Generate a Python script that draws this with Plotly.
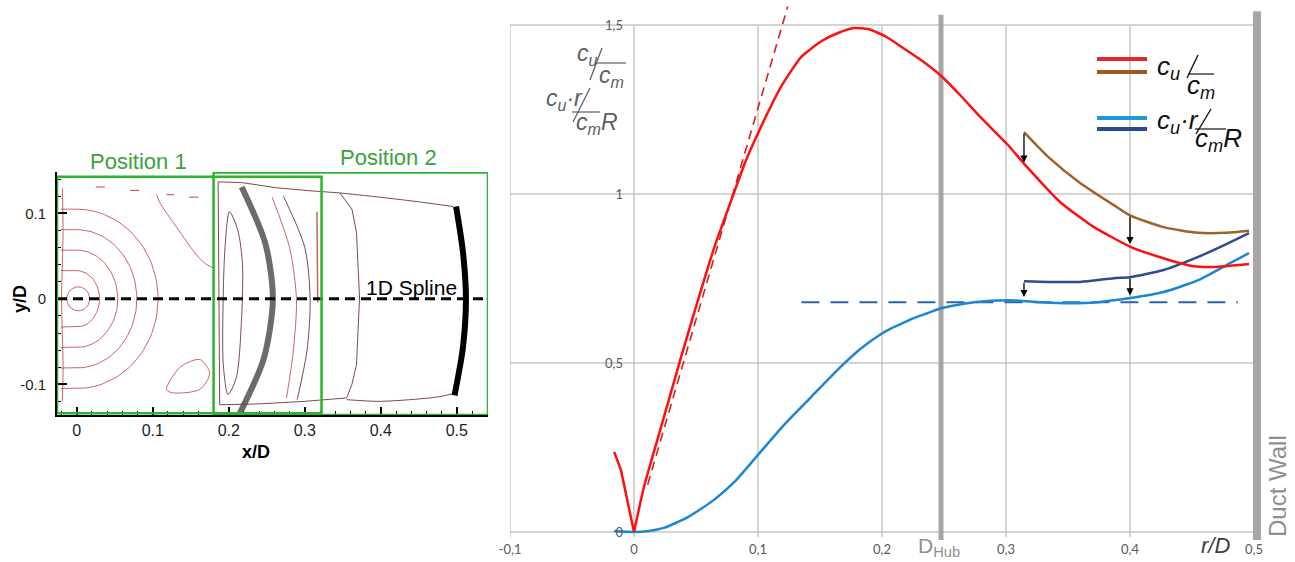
import numpy as np
import plotly.graph_objects as go

W, H = 1295, 562

# ---------------- Right panel data (r/D vs swirl numbers) ----------------
red_x = [-0.016, -0.0105, 0.0, 0.008, 0.0218, 0.038, 0.0516, 0.065, 0.0806, 0.09, 0.1, 0.1185, 0.1347,
         0.151, 0.165, 0.1774, 0.189, 0.203, 0.215, 0.23, 0.2476, 0.2637, 0.28, 0.3016, 0.3145, 0.344, 0.371,
         0.4008, 0.427, 0.4516, 0.468, 0.496]
red_y = [0.237, 0.183, 0.0, 0.133, 0.31, 0.518, 0.686, 0.845, 1.003, 1.097, 1.180, 1.317, 1.405,
         1.452, 1.477, 1.491, 1.488, 1.466, 1.437, 1.40, 1.350, 1.29, 1.225, 1.145, 1.09, 0.975, 0.902,
         0.843, 0.81, 0.786, 0.784, 0.793]

brown_x = [0.3145, 0.334, 0.36, 0.387, 0.4, 0.427, 0.455, 0.478, 0.496]
brown_y = [1.183, 1.11, 1.032, 0.967, 0.937, 0.902, 0.885, 0.885, 0.891]

blue_x = [-0.016, 0.0, 0.012, 0.024, 0.0435, 0.0645, 0.081, 0.1, 0.121, 0.143, 0.167, 0.183, 0.199, 0.207,
          0.215, 0.225, 0.237, 0.2476, 0.274, 0.3016, 0.328, 0.35, 0.374, 0.4, 0.427, 0.455, 0.481, 0.496]
blue_y = [0.003, 0.0, 0.003, 0.012, 0.044, 0.095, 0.148, 0.228, 0.317, 0.40, 0.49, 0.543, 0.585, 0.602,
          0.615, 0.632, 0.648, 0.662, 0.68, 0.686, 0.68, 0.677, 0.68, 0.692, 0.71, 0.745, 0.796, 0.825]

dblue_x = [0.3145, 0.334, 0.36, 0.387, 0.4, 0.427, 0.455, 0.476, 0.496]
dblue_y = [0.742, 0.74, 0.74, 0.751, 0.754, 0.775, 0.814, 0.849, 0.884]

red_dash_x = [0.011, 0.124]
red_dash_y = [0.14, 1.555]
blue_dash_x = [0.135, 0.487]
blue_dash_y = [0.68, 0.68]

# arrows: (x, y_from, y_to)
arrows = [(0.3145, 1.183, 1.093), (0.4, 0.937, 0.852), (0.3145, 0.742, 0.695), (0.4, 0.754, 0.700)]

x_ticks_r = [-0.1, 0.0, 0.1, 0.2, 0.3, 0.4, 0.5]
x_ticktext_r = ["-0,1", "0", "0,1", "0,2", "0,3", "0,4", "0,5"]
y_ticks_r = [0.0, 0.5, 1.0, 1.5]
y_ticktext_r = ["0", "0,5", "1", "1,5"]
d_hub = 0.2476
duct_wall = 0.5024

# ---------------- Left panel data (contour sketch) ----------------
x_ticks_l = [0, 0.1, 0.2, 0.3, 0.4, 0.5]
y_ticks_l = [-0.1, 0, 0.1]
pos1_box = (-0.026, 0.322, -0.134, 0.143)
pos2_box = (0.180, 0.541, -0.136, 0.148)
gray_arc_x = [0.214, 0.246, 0.258, 0.248, 0.217]
gray_arc_y = [-0.135, -0.07, 0.0, 0.065, 0.131]
black_arc_x = [0.497, 0.508, 0.512, 0.508, 0.499]
black_arc_y = [-0.113, -0.057, 0.0, 0.055, 0.108]
ring_rx = [0.030, 0.054, 0.079, 0.107]
ring_ry = [0.033, 0.057, 0.081, 0.105]
inner_oval = (0.002, 0.0, 0.015, 0.014)
contour_a_x = [0.188, 0.187, 0.186, 0.218, 0.263, 0.30, 0.346, 0.362, 0.368, 0.372, 0.368, 0.362, 0.355, 0.30, 0.24, 0.188]
contour_a_y = [-0.124, 0.0, 0.137, 0.136, 0.130, 0.127, 0.124, 0.105, 0.078, 0.001, -0.077, -0.10, -0.116, -0.12, -0.123, -0.124]
contour_top_x = [0.346, 0.399, 0.455, 0.495]
contour_top_y = [0.124, 0.119, 0.113, 0.108]
contour_bot_x = [0.355, 0.399, 0.474, 0.495]
contour_bot_y = [-0.118, -0.120, -0.115, -0.111]
oval_x = [0.201, 0.212, 0.218, 0.217, 0.21, 0.199, 0.193, 0.192, 0.195, 0.201]
oval_y = [0.102, 0.08, 0.04, -0.019, -0.092, -0.112, -0.08, -0.039, 0.06, 0.102]
arc_d1_x = [0.257, 0.28, 0.289, 0.285, 0.276]
arc_d1_y = [0.119, 0.06, 0.0, -0.06, -0.116]
arc_d2_x = [0.272, 0.30, 0.307, 0.303, 0.29]
arc_d2_y = [0.12, 0.06, 0.0, -0.06, -0.118]
vert_x = [0.316, 0.317]
vert_y = [0.102, -0.004]
contour_e_x = [0.105, 0.109, 0.132, 0.158, 0.171, 0.181]
contour_e_y = [0.122, 0.113, 0.083, 0.051, 0.040, 0.036]
blob_x = [0.118, 0.136, 0.162, 0.175, 0.162, 0.126, 0.118]
blob_y = [-0.106, -0.08, -0.071, -0.087, -0.106, -0.11, -0.106]
edge_x = [-0.019, -0.018, -0.02, -0.018, -0.019]
edge_y = [0.13, 0.08, 0.0, -0.08, -0.12]
dashes_x = [0.025, 0.037, None, 0.07, 0.082, None, 0.118, 0.128, None, 0.148, 0.16]
dashes_y = [0.131, 0.131, None, 0.127, 0.127, None, 0.122, 0.122, None, 0.119, 0.119]

fig = go.Figure()

CR = "rgba(200,70,70,0.85)"
CD = "rgba(110,55,55,0.9)"


def lt(x, y, color, width=1.0, shape="spline", dash=None, xa="x", ya="y", smooth=0.8):
    fig.add_trace(go.Scatter(x=x, y=y, mode="lines", xaxis=xa, yaxis=ya, hoverinfo="skip",
                             line=dict(color=color, width=width, shape=shape, dash=dash,
                                       smoothing=smooth if shape == "spline" else None),
                             showlegend=False))


# ----- left panel contours -----
cx, cy, orx, ory = inner_oval
t = np.linspace(0, 2 * np.pi, 60)
lt(list(cx + orx * np.cos(t)), list(cy + ory * np.sin(t)), CR, shape="linear")
for rx, ry in zip(ring_rx, ring_ry):
    th = np.linspace(-np.pi / 2, np.pi / 2, 60)
    xs = [-0.021] + list(rx * np.cos(th)) + [-0.021]
    ys = [-ry] + list(ry * np.sin(th)) + [ry]
    lt(xs, ys, CR, shape="linear")
lt(edge_x, edge_y, CR)
lt(dashes_x, dashes_y, CR, width=1.2, shape="linear")
lt(contour_e_x, contour_e_y, CR)
lt(blob_x, blob_y, CR)
lt(contour_a_x, contour_a_y, CD, shape="linear")
lt(contour_top_x, contour_top_y, CD)
lt(contour_bot_x, contour_bot_y, CD)
lt(oval_x, oval_y, CD)
lt(arc_d1_x, arc_d1_y, CR)
lt(arc_d2_x, arc_d2_y, CD)
lt(vert_x, vert_y, CR, width=1.5, shape="linear")
lt(gray_arc_x, gray_arc_y, "rgba(70,70,70,0.8)", width=6)
lt(black_arc_x, black_arc_y, "black", width=6)
lt([pos1_box[0], pos2_box[1]], [0, 0], "black", width=3, shape="linear", dash="10px,6px")

# ----- right panel curves -----
lt(red_dash_x, red_dash_y, "#d62020", width=1.6, shape="linear", dash="9px,6px", xa="x2", ya="y2")
lt(blue_dash_x, blue_dash_y, "#2e64a6", width=2, shape="linear", dash="18px,11px", xa="x2", ya="y2")
lt(blue_x, blue_y, "#1c87d0", width=2.5, xa="x2", ya="y2", smooth=0.6)
lt(dblue_x, dblue_y, "#2f4c8c", width=2.5, xa="x2", ya="y2", smooth=0.6)
lt(brown_x, brown_y, "#a0612a", width=2.5, xa="x2", ya="y2", smooth=0.6)
# red curve: sharp cusp at r=0 (linear part), smooth elsewhere
lt(red_x[:3], red_y[:3], "#ff1010", width=2.5, shape="linear", xa="x2", ya="y2")
lt(red_x[2:], red_y[2:], "#ff1010", width=2.5, xa="x2", ya="y2", smooth=0.5)

shapes = []
GRID = "#c6c6c6"
for yv in y_ticks_r:
    shapes.append(dict(type="line", xref="x2", yref="y2", x0=-0.1, x1=0.5, y0=yv, y1=yv,
                       line=dict(color=GRID, width=1.5), layer="below"))
for xv in x_ticks_r[:-1]:
    shapes.append(dict(type="line", xref="x2", yref="y2", x0=xv, x1=xv, y0=-0.015, y1=1.5,
                       line=dict(color=GRID, width=1.5), layer="below"))
shapes.append(dict(type="line", xref="x2", yref="y2", x0=d_hub, x1=d_hub, y0=-0.024, y1=1.53,
                   line=dict(color="#a6a6a6", width=5), layer="below"))
shapes.append(dict(type="line", xref="x2", yref="y2", x0=duct_wall, x1=duct_wall, y0=-0.024, y1=1.541,
                   line=dict(color="#a6a6a6", width=8), layer="below"))
shapes.append(dict(type="rect", xref="paper", yref="paper", x0=1085 / W, x1=1250 / W,
                   y0=1 - 147 / H, y1=1 - 37 / H, fillcolor="white", line=dict(width=0), layer="below"))


def pline(x0, y0, x1, y1, color, width=1.5):
    shapes.append(dict(type="line", xref="paper", yref="paper", x0=x0 / W, x1=x1 / W,
                       y0=1 - y0 / H, y1=1 - y1 / H, line=dict(color=color, width=width)))


pline(1097, 59, 1147, 59, "#e8262a", 4)
pline(1097, 72, 1147, 72, "#9c5a22", 4)
pline(1097, 118, 1147, 118, "#1f9ad8", 4)
pline(1097, 129, 1147, 129, "#2c4a8e", 4)

for (x0, x1, y0, y1) in [pos1_box, pos2_box]:
    shapes.append(dict(type="rect", xref="x", yref="y", x0=x0, x1=x1, y0=y0, y1=y1,
                       line=dict(color="#2db52d", width=2.5)))

annotations = []


def ptext(x, y, text, size, color, xanchor="center", yanchor="middle", family="Liberation Sans", angle=0):
    annotations.append(dict(x=x / W, y=1 - y / H, xref="paper", yref="paper", text=text, showarrow=False,
                            xanchor=xanchor, yanchor=yanchor, textangle=angle,
                            font=dict(size=size, color=color, family=family)))


G = "#5f5f5f"
ptext(575, 55, "<i>c<sub>u</sub></i>", 23, G, xanchor="left")
pline(602, 48, 590, 80, G, 1.3)
pline(595, 63, 626, 63, G, 1.2)
ptext(597, 76, "<i>c<sub>m</sub></i>", 23, G, xanchor="left")
ptext(544, 99, "<i>c<sub>u</sub>·r</i>", 23, G, xanchor="left")
pline(590, 88, 573, 122, G, 1.3)
pline(572, 112, 600, 112, G, 1.2)
ptext(574, 124, "<i>c<sub>m</sub>R</i>", 23, G, xanchor="left")

K = "#111111"
ptext(1155, 67, "<i>c<sub>u</sub></i>", 26, K, xanchor="left")
pline(1198, 55, 1187, 78, K, 1.4)
pline(1188, 74, 1214, 74, K, 1.2)
ptext(1185, 86, "<i>c<sub>m</sub></i>", 26, K, xanchor="left")
ptext(1155, 121, "<i>c<sub>u</sub>·r</i>", 26, K, xanchor="left")
pline(1211, 109, 1196, 134, K, 1.4)
pline(1195, 129, 1226, 129, K, 1.2)
ptext(1193, 139, "<i>c<sub>m</sub>R</i>", 26, K, xanchor="left")

ptext(916, 547, "D<sub>Hub</sub>", 21, "#8f8f8f", xanchor="left")
ptext(1215, 545, "<i>r/D</i>", 22, "#404040")
ptext(1277, 486, "Duct Wall", 24, "#8f8f8f", angle=-90)

ptext(138, 161, "Position 1", 22, "#3da03d")
ptext(388, 157, "Position 2", 22, "#3da03d")
ptext(411, 287, "1D Spline", 21, "black")
ptext(256, 452, "<b>x/D</b>", 18, "black")
ptext(20, 299, "<b>y/D</b>", 18, "black", angle=-90)

for (xa_, y_from, y_to) in arrows:
    annotations.append(dict(x=xa_, y=y_to, ax=xa_, ay=y_from, xref="x2", yref="y2", axref="x2", ayref="y2",
                            text="", showarrow=True, arrowhead=2, arrowsize=1.1, arrowwidth=1.3,
                            arrowcolor="black"))

fig.update_layout(
    width=W, height=H, margin=dict(l=0, r=0, t=0, b=0),
    paper_bgcolor="white", plot_bgcolor="rgba(0,0,0,0)",
    showlegend=False, shapes=shapes, annotations=annotations,
    xaxis=dict(domain=[57 / W, 488 / W], range=[-0.026, 0.541], anchor="y",
               tickvals=x_ticks_l, ticktext=["0", "0.1", "0.2", "0.3", "0.4", "0.5"],
               ticks="inside", ticklen=8, tickwidth=2, tickcolor="black",
               minor=dict(ticks="inside", dtick=0.02, ticklen=4, tickcolor="black", tickwidth=1),
               showline=True, linecolor="black", linewidth=2, showgrid=False, zeroline=False,
               tickfont=dict(size=16, color="#222", family="Liberation Sans"), automargin=False),
    yaxis=dict(domain=[1 - 415 / H, 1 - 172 / H], range=[-0.136, 0.1485], anchor="x",
               tickvals=y_ticks_l, ticktext=["-0.1", "0", "0.1"],
               ticks="inside", ticklen=10, tickwidth=2, tickcolor="black",
               minor=dict(ticks="inside", dtick=0.02, ticklen=4, tickcolor="black", tickwidth=1),
               showline=True, linecolor="black", linewidth=2, showgrid=False, zeroline=False,
               tickfont=dict(size=15, color="#222", family="Liberation Sans"), ticklabelstandoff=6,
               automargin=False),
    xaxis2=dict(domain=[510 / W, 1.0], range=[-0.1, -0.1 + 785 / 1240], anchor="y2",
                tickvals=x_ticks_r, ticktext=x_ticktext_r, ticks="", showline=False,
                showgrid=False, zeroline=False,
                tickfont=dict(size=13, color="#595959", family="Lato"), automargin=False),
    yaxis2=dict(domain=[1 - 540 / H, 1.0], range=[-0.0237, 1.574], anchor="free", position=633 / W,
                tickvals=y_ticks_r, ticktext=y_ticktext_r, ticks="", showline=False,
                showgrid=False, zeroline=False, ticklabelstandoff=10,
                tickfont=dict(size=13, color="#595959", family="Lato"), automargin=False),
)

fig.write_html("out.html", config={"displayModeBar": False},
               post_script="document.body.style.margin='0';document.body.style.overflow='hidden';")
